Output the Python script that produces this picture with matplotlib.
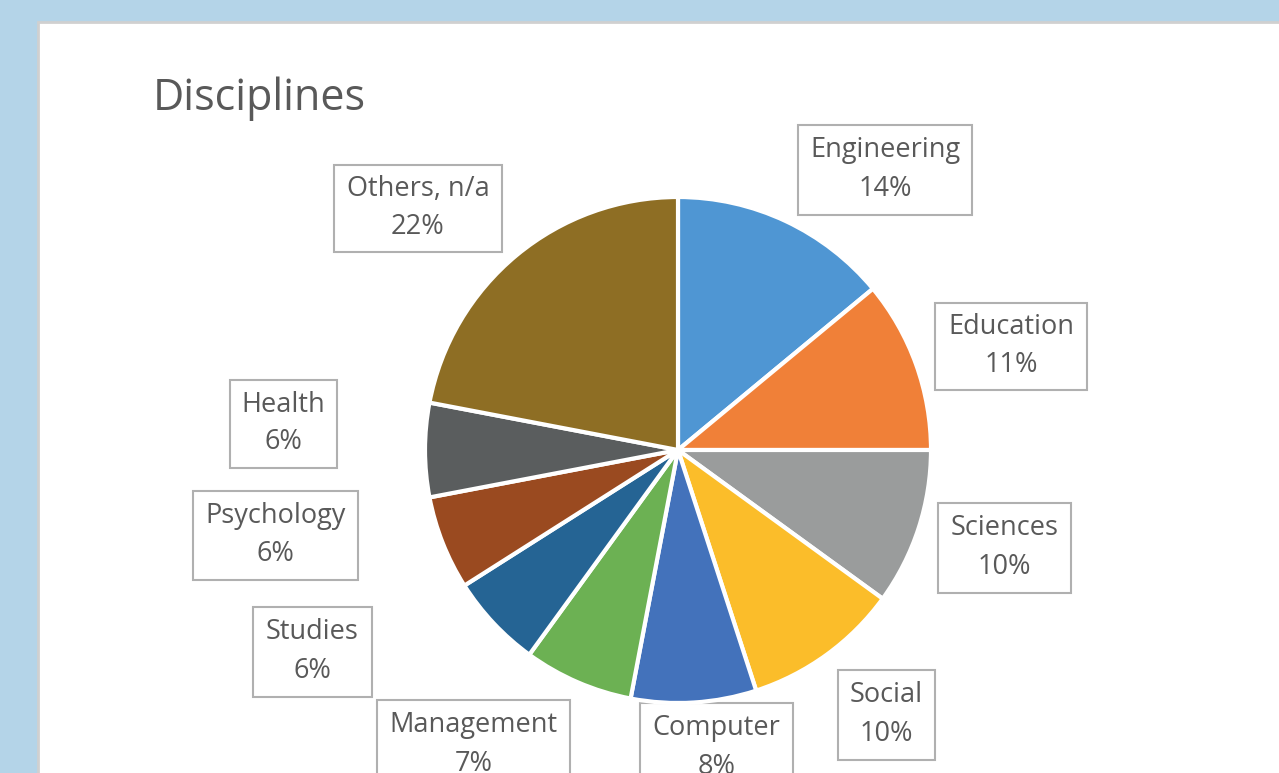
import matplotlib.pyplot as plt
from matplotlib.patches import Rectangle

categories = ['Engineering', 'Education', 'Sciences', 'Social', 'Computer',
              'Management', 'Studies', 'Psychology', 'Health', 'Others, n/a']
shares = [14, 11, 10, 10, 8, 7, 6, 6, 6, 22]
colors = ['#4f96d3', '#f08038', '#9a9c9c', '#fbbd2a', '#4372bb',
          '#6cb153', '#256494', '#9a4a20', '#5a5d5e', '#8e6e24']

# label boxes in pixel coords: left, top, width, height
boxes = [(798, 125, 174, 90), (935, 303, 152, 87), (938, 503, 133, 90),
         (838, 670, 97, 90), (640, 703, 153, 90), (377, 700, 193, 90),
         (253, 607, 119, 90), (193, 491, 165, 89), (230, 380, 107, 88),
         (334, 165, 168, 87)]

W, H = 1279, 773
fig = plt.figure(figsize=(W / 100, H / 100), dpi=100)
fig.patch.set_facecolor('#b4d4e8')
ax = fig.add_axes([0, 0, 1, 1])
ax.set_xlim(0, W)
ax.set_ylim(H, 0)
ax.axis('off')

# white chart panel
ax.add_patch(Rectangle((38, 22), W, H, facecolor='white', edgecolor='#d0d0d0', lw=2))

ax.text(153, 99, 'Disciplines', fontsize=31, color='#595959',
        family='Open Sans', va='center', ha='left')

# pie in its own axes so the geometry stays circular
cx, cy, r = 678, 450, 253
pax = fig.add_axes([(cx - r) / W, 1 - (cy + r) / H, 2 * r / W, 2 * r / H])
pax.pie(shares, colors=colors, startangle=90, counterclock=False,
        wedgeprops=dict(edgecolor='white', linewidth=3))
pax.set_aspect('equal')
pax.set_xlim(-1, 1)
pax.set_ylim(-1, 1)
pax.axis('off')

for name, val, (x, y, w, h) in zip(categories, shares, boxes):
    ax.add_patch(Rectangle((x, y), w, h, facecolor='white', edgecolor='#b0b0b0',
                           lw=1.5, zorder=3))
    ax.text(x + w / 2, y + h * 0.28, name, fontsize=19.5, color='#595959',
            family='Open Sans', ha='center', va='center', zorder=4)
    ax.text(x + w / 2, y + h * 0.71, f'{val}%', fontsize=19.5, color='#595959',
            family='Open Sans', ha='center', va='center', zorder=4)

fig.savefig('out.png', dpi=100)
